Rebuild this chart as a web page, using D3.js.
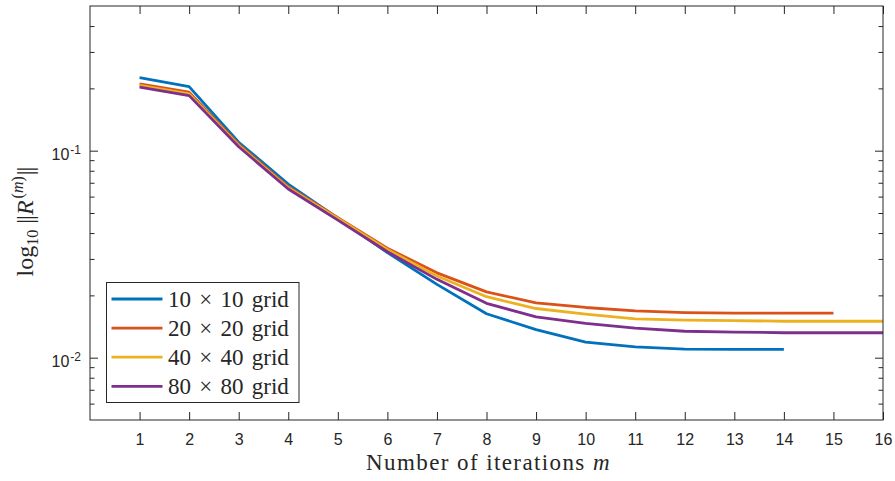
<!DOCTYPE html>
<html>
<head>
<meta charset="utf-8">
<script src="https://cdn.jsdelivr.net/npm/d3@7"></script>
<style>
  html, body { margin: 0; padding: 0; background: #fff; }
  svg { display: block; }
  .tick-label { font-family: "Liberation Sans", Arial, Helvetica, sans-serif; font-size: 16px; fill: #262626; }
  .serif { font-family: "Liberation Serif", "Times New Roman", "DejaVu Serif", serif; fill: #262626; }
</style>
</head>
<body>
<svg id="chart" width="895" height="481"></svg>
<script>
// Residual norm per iteration for each grid resolution
const iterations = d3.range(1, 17);
const seriesNames = ["10 \u00d7 10 grid", "20 \u00d7 20 grid", "40 \u00d7 40 grid", "80 \u00d7 80 grid"];
const grid10 = [0.2254, 0.204, 0.1098, 0.0690, 0.0472, 0.0322, 0.0226, 0.0163, 0.01367, 0.0119, 0.01127, 0.0110, 0.01097, 0.01097];
const grid20 = [0.210, 0.1916, 0.1074, 0.0670, 0.0474, 0.0338, 0.0257, 0.0208, 0.0184, 0.01748, 0.01683, 0.01652, 0.0164, 0.0164, 0.0164];
const grid40 = [0.207, 0.188, 0.106, 0.0662, 0.0470, 0.0333, 0.0248, 0.0197, 0.01728, 0.01622, 0.01539, 0.01517, 0.0151, 0.0150, 0.0150, 0.0150];
const grid80 = [0.2026, 0.1845, 0.1045, 0.0653, 0.0462, 0.0325, 0.0239, 0.0183, 0.01574, 0.01466, 0.01388, 0.01342, 0.0133, 0.0132, 0.0132, 0.0132];
const colors = ["#0072BD", "#D95319", "#EDB120", "#7E2F8E"];
const xTicks = d3.range(1, 17);
const yMajorTicks = [0.1, 0.01];
const yMinorTicks = [6e-3, 7e-3, 8e-3, 9e-3, 2e-2, 3e-2, 4e-2, 5e-2, 6e-2, 7e-2, 8e-2, 9e-2, 0.2, 0.3, 0.4];

const allSeries = [grid10, grid20, grid40, grid80];

const svg = d3.select("#chart");
const plotLeft = 90, plotRight = 883, plotTop = 6, plotBottom = 420;
const axisColor = "#262626";

const x = d3.scaleLinear().domain([0, 16]).range([plotLeft, plotRight]);
const y = d3.scaleLog().domain([0.005, 0.5]).range([plotBottom, plotTop]);

svg.append("rect").attr("width", 895).attr("height", 481).attr("fill", "#fff");

// Curves
const line = d3.line().x((d, i) => x(iterations[i])).y(d => y(d));
allSeries.forEach((s, k) => {
  svg.append("path")
    .datum(s)
    .attr("d", line)
    .attr("fill", "none")
    .attr("stroke", colors[k])
    .attr("stroke-width", 2.8)
    .attr("stroke-linejoin", "round");
});

// Axes box with inward ticks on all four sides
const gAxes = svg.append("g");
const majorLen = 8, minorLen = 4.5;

const xBottom = d3.axisBottom(x).tickValues(xTicks).tickSize(-majorLen).tickFormat(d3.format("d")).tickPadding(14);
const xTop = d3.axisTop(x).tickValues(xTicks).tickSize(-majorLen).tickFormat("");
const yLeftMinor = d3.axisLeft(y).tickValues(yMinorTicks).tickSize(-minorLen).tickFormat("");
const yRightMinor = d3.axisRight(y).tickValues(yMinorTicks).tickSize(-minorLen).tickFormat("");
const yLeftMajor = d3.axisLeft(y).tickValues(yMajorTicks).tickSize(-majorLen).tickFormat("");
const yRightMajor = d3.axisRight(y).tickValues(yMajorTicks).tickSize(-majorLen).tickFormat("");

function styleAxis(g) {
  g.attr("font-size", null).attr("font-family", null);
  g.selectAll(".domain").remove();
  g.selectAll("line").attr("stroke", axisColor).attr("stroke-width", 1);
  g.selectAll("text").attr("class", "tick-label").attr("fill", axisColor);
}

gAxes.append("g").attr("transform", `translate(0,${plotBottom})`).call(xBottom).call(styleAxis);
gAxes.append("g").attr("transform", `translate(0,${plotTop})`).call(xTop).call(styleAxis);
gAxes.append("g").attr("transform", `translate(${plotLeft},0)`).call(yLeftMinor).call(styleAxis);
gAxes.append("g").attr("transform", `translate(${plotRight},0)`).call(yRightMinor).call(styleAxis);
gAxes.append("g").attr("transform", `translate(${plotLeft},0)`).call(yLeftMajor).call(styleAxis);
gAxes.append("g").attr("transform", `translate(${plotRight},0)`).call(yRightMajor).call(styleAxis);

gAxes.append("rect")
  .attr("x", plotLeft).attr("y", plotTop)
  .attr("width", plotRight - plotLeft).attr("height", plotBottom - plotTop)
  .attr("fill", "none").attr("stroke", axisColor).attr("stroke-width", 1);

// Power-of-ten labels on the y axis
yMajorTicks.forEach(v => {
  const exp = Math.round(Math.log10(v));
  const t = svg.append("text").attr("class", "tick-label")
    .attr("x", 81).attr("y", y(v) + 9).attr("text-anchor", "end");
  t.append("tspan").text("10");
  t.append("tspan").attr("font-size", 12).attr("dy", -6).attr("dx", 1).text("-" + Math.abs(exp));
});

// Axis titles
svg.append("text").attr("class", "serif")
  .attr("x", (plotLeft + plotRight) / 2 + 2).attr("y", 470)
  .attr("text-anchor", "middle").attr("font-size", 23).style("letter-spacing", "1.4px")
  .call(t => {
    t.append("tspan").text("Number of iterations ");
    t.append("tspan").attr("font-style", "italic").text("m");
  });

const yl = svg.append("text").attr("class", "serif")
  .attr("transform", `translate(33,222) rotate(-90)`)
  .attr("text-anchor", "middle").attr("font-size", 24);
yl.append("tspan").text("log");
yl.append("tspan").attr("font-size", 16).attr("dy", 5).text("10");
yl.append("tspan").attr("dy", -5).attr("dx", 6).style("letter-spacing", "-1px").text("||");
yl.append("tspan").attr("font-style", "italic").attr("dx", 1).text("R");
yl.append("tspan").attr("font-size", 16).attr("dy", -10).attr("dx", 2).text("(");
yl.append("tspan").attr("font-size", 16).attr("font-style", "italic").text("m");
yl.append("tspan").attr("font-size", 16).text(")");
yl.append("tspan").attr("dy", 10).attr("dx", 1).style("letter-spacing", "-1px").text("||");

// Legend
const lg = svg.append("g");
lg.append("rect")
  .attr("x", 106.5).attr("y", 282.5).attr("width", 192.5).attr("height", 120)
  .attr("fill", "#fff").attr("stroke", axisColor).attr("stroke-width", 1);
seriesNames.forEach((name, k) => {
  const ly = 299 + k * 29.1;
  lg.append("line")
    .attr("x1", 111.5).attr("x2", 162.5).attr("y1", ly).attr("y2", ly)
    .attr("stroke", colors[k]).attr("stroke-width", 2.8);
  lg.append("text").attr("class", "serif")
    .attr("x", 168).attr("y", ly + 7.5).attr("font-size", 23)
    .style("word-spacing", "2.5px")
    .text(name);
});
</script>
</body>
</html>
